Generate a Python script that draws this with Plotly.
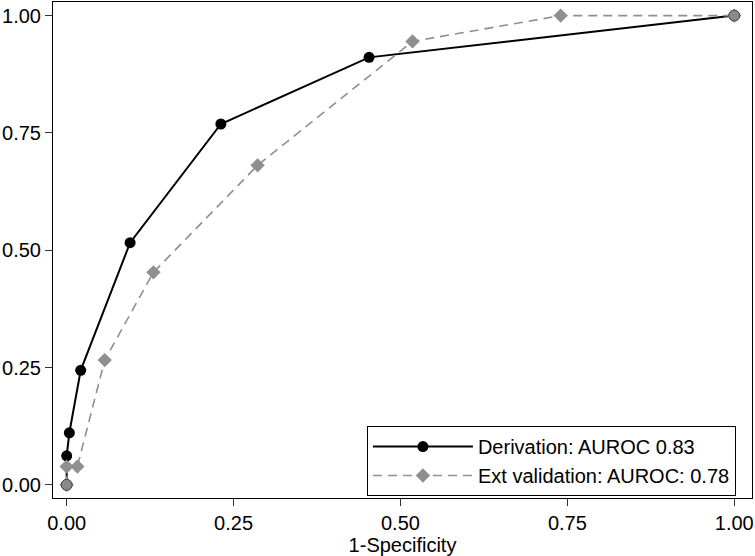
import plotly.graph_objects as go

# Derivation ROC points
deriv_x = [0.0, 0.0, 0.004, 0.021, 0.095, 0.231, 0.453, 1.0]
deriv_y = [0.0, 0.062, 0.111, 0.244, 0.516, 0.769, 0.911, 1.0]
# External validation ROC points
valid_x = [0.0, 0.0, 0.016, 0.057, 0.130, 0.286, 0.518, 0.74, 1.0]
valid_y = [0.0, 0.039, 0.039, 0.266, 0.453, 0.681, 0.945, 1.0, 1.0]

tick_vals = [0, 0.25, 0.5, 0.75, 1.0]
tick_text = ["0.00", "0.25", "0.50", "0.75", "1.00"]

FONT = "Liberation Sans, Arial, Helvetica, sans-serif"
GRAY = "#8f8f8f"
FS = 20

fig = go.Figure()
fig.add_trace(go.Scatter(
    x=deriv_x, y=deriv_y, mode="lines+markers",
    name="Derivation: AUROC 0.83",
    line=dict(color="black", width=2),
    marker=dict(symbol="circle", size=11, color="black"),
))
fig.add_trace(go.Scatter(
    x=valid_x, y=valid_y, mode="lines+markers",
    name="Ext validation: AUROC: 0.78",
    line=dict(color=GRAY, width=1.6, dash="9px,6px"),
    marker=dict(symbol="diamond", size=11, color=GRAY),
))
# shared end points drawn as overlapping gray circles
fig.add_trace(go.Scatter(
    x=[deriv_x[0], deriv_x[-1]], y=[deriv_y[0], deriv_y[-1]], mode="markers",
    showlegend=False, hoverinfo="skip",
    marker=dict(symbol="circle", size=11, color="#8a8a8a",
                line=dict(color="#444444", width=1)),
))

axis_common = dict(
    showgrid=False, zeroline=False, showline=True, linecolor="black",
    linewidth=1, mirror=True, ticks="outside", ticklen=7, tickwidth=1,
    tickcolor="#333333", tickvals=tick_vals, ticktext=tick_text,
    tickfont=dict(family=FONT, size=FS, color="black"), automargin=False,
)

fig.update_layout(
    width=755, height=556, autosize=False,
    margin=dict(l=53, r=3, t=2, b=58, autoexpand=False),
    paper_bgcolor="white", plot_bgcolor="white",
    font=dict(family=FONT, size=FS, color="black"),
    xaxis=dict(range=[-0.0205, 1.0266],
               title=dict(text="1-Specificity", font=dict(family=FONT, size=FS), standoff=0),
               **axis_common),
    yaxis=dict(range=[-0.028, 1.029], **axis_common),
    legend=dict(x=0.977, y=0.004, xanchor="right", yanchor="bottom",
                bordercolor="black", borderwidth=1, bgcolor="white",
                font=dict(family=FONT, size=FS, color="black"),
                itemwidth=100, tracegroupgap=0),
    showlegend=True,
)

fig.write_html("out.html", config={"displayModeBar": False})

# remove default page margins so the figure sits at the window origin
with open("out.html", "r", encoding="utf-8") as f:
    html = f.read()
html = html.replace("<head>", "<head><style>html,body{margin:0;padding:0;overflow:hidden}</style>", 1)
with open("out.html", "w", encoding="utf-8") as f:
    f.write(html)
